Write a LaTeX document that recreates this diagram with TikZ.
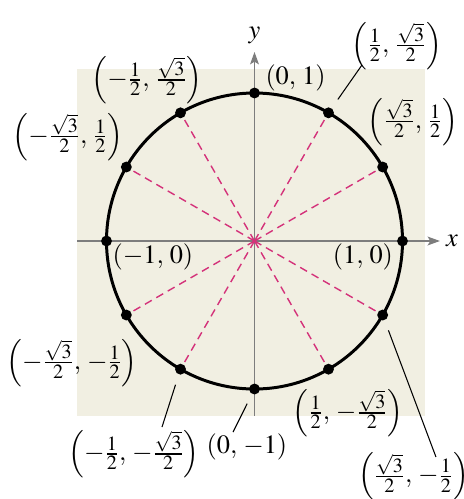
\documentclass[tikz,border=0pt]{standalone}
\usepackage{amsmath}
\usepackage{mathptmx}
\DeclareMathSizes{15}{15}{11.5}{9}
\usetikzlibrary{arrows.meta}
\definecolor{PaperBeige}{RGB}{241,239,226}
\definecolor{RayMagenta}{RGB}{212,50,122}
\definecolor{AxisGray}{RGB}{125,125,125}

\begin{document}
\begin{tikzpicture}[x=2.96cm,y=2.96cm,
    every node/.style={font=\fontsize{15}{18}\selectfont,inner sep=1pt},
    dot/.style={circle,fill=black,inner sep=0pt,minimum size=6.2pt},
    ray/.style={RayMagenta,line width=0.8pt,dash pattern=on 4.5pt off 3pt},
    leader/.style={black,line width=0.6pt,shorten <=6pt},
    axis/.style={AxisGray,line width=0.9pt,-{Stealth[length=7pt,width=5pt,inset=1.5pt]}}]
        \useasboundingbox (-1.7196,-1.7432) rectangle (1.4155,1.6284);
        \fill[PaperBeige] (-1.199,-1.182) rectangle (1.152,1.162);
        \coordinate (o) at (0,0);
        \coordinate (xl) at (-1.199,0);
        \coordinate (yb) at (0,-1.182);
        \node (xlab) at (1.334,0) {$x$};
        \node (ylab) at (0,1.392) {$y$};
        \draw[axis] (xl) -- (1.253,0);
        \draw[axis] (yb) -- (0,1.277);
        % rays and the unit circle
        \foreach \a in {30,60,120,150,210,240,300,330}
            \draw[ray] (o) -- (\a:1);
        \draw[line width=1.7pt] (o) circle (1);
        \foreach \a in {0,30,...,330}
            \node[dot] (p\a) at (\a:1) {};
        % labels
        \node (l0) at (0.733,-0.108) {$(1,\,0)$};
        \node (l30) at (1.071,0.805) {$\left(\frac{\sqrt{3}}{2},\,\frac{1}{2}\right)$};
        \node (l60) at (0.963,1.318) {$\left(\frac{1}{2},\,\frac{\sqrt{3}}{2}\right)$};
        \node (l90) at (0.277,1.101) {$(0,\,1)$};
        \node (l120) at (-0.726,1.088) {$\left(-\frac{1}{2},\,\frac{\sqrt{3}}{2}\right)$};
        \node (l150) at (-1.260,0.703) {$\left(-\frac{\sqrt{3}}{2},\,\frac{1}{2}\right)$};
        \node (l180) at (-0.686,-0.108) {$(-1,\,0)$};
        \node (l210) at (-1.233,-0.824) {$\left(-\frac{\sqrt{3}}{2},\,-\frac{1}{2}\right)$};
        \node (l240) at (-0.814,-1.439) {$\left(-\frac{1}{2},\,-\frac{\sqrt{3}}{2}\right)$};
        \node (l270) at (-0.051,-1.392) {$(0,\,-1)$};
        \node (l300) at (0.632,-1.162) {$\left(\frac{1}{2},\,-\frac{\sqrt{3}}{2}\right)$};
        \node (l330) at (1.074,-1.590) {$\left(\frac{\sqrt{3}}{2},\,-\frac{1}{2}\right)$};
        % leader lines
        \coordinate (e60) at (0.726,1.189);
        \coordinate (e240) at (-0.625,-1.257);
        \coordinate (e270) at (-0.145,-1.291);
        \coordinate (e330) at (1.226,-1.459);
        \draw[leader] (p60) -- (e60);
        \draw[leader] (p240) -- (e240);
        \draw[leader] (p270) -- (e270);
        \draw[leader] (p330) -- (e330);
      \end{tikzpicture}
\end{document}
